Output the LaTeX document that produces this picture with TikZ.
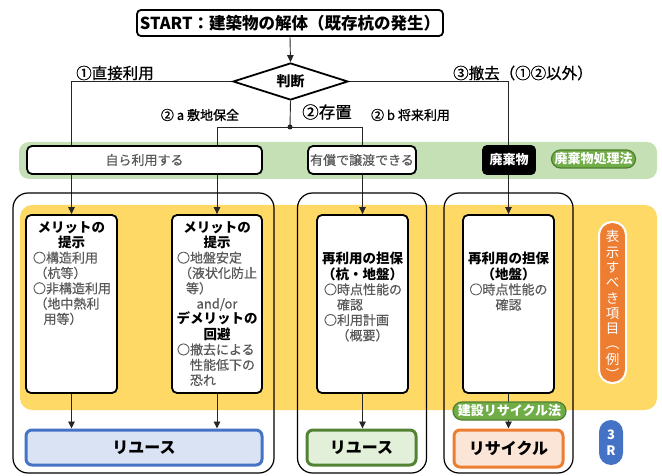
\documentclass[tikz,border=0pt]{standalone}
\usepackage{fontspec}
\setmainfont{Noto Sans CJK JP}
\newfontfamily\medfont{Noto Sans CJK JP}[FakeBold=0.9]
\newfontfamily\bodyfont{Noto Sans CJK JP}[FakeBold=0.4]
\usetikzlibrary{shapes.geometric,arrows.meta}
\pgfdeclarelayer{bg}
\pgfdeclarelayer{conn}
\pgfsetlayers{bg,conn,main}
\definecolor{linec}{HTML}{262626}
\definecolor{tgray}{HTML}{595959}
\definecolor{bandG}{HTML}{C5E0B4}
\definecolor{bandY}{HTML}{FFD966}
\definecolor{pillG}{HTML}{70AD47}
\definecolor{pillGd}{HTML}{507E32}
\definecolor{blueB}{HTML}{4472C4}
\definecolor{blueF}{HTML}{DAE3F3}
\definecolor{greenB}{HTML}{548235}
\definecolor{greenF}{HTML}{E2F0D9}
\definecolor{oraB}{HTML}{ED7D31}
\definecolor{oraF}{HTML}{FBE5D6}
\newlength\tbw
\setlength\tbw{84pt}
\newcommand\Lft[2][0pt]{\makebox[\tbw][l]{\hspace{#1}#2}}
\newcommand\ttl[1]{{\fontsize{13.5}{15.3}\selectfont\normalfont\bfseries\color{black}#1}}
\begin{document}
\begin{tikzpicture}[x=1pt,y=-1pt,
  conn/.style={draw=linec, line width=0.9pt},
  arr/.style={conn, -{Triangle[width=6.5pt,length=7pt]}},
  thickbox/.style={draw=black, line width=1.8pt, fill=white, rounded corners=5pt, inner sep=0pt},
  outerbox/.style={draw=black, line width=1.2pt, rounded corners=15pt, inner sep=0pt, minimum width=129pt, minimum height=280pt},
  innerbox/.style={thickbox, minimum width=91pt, minimum height=178pt},
  txt/.style={inner sep=0pt, align=center, text width=\tbw, font=\bodyfont\fontsize{13}{15.3}\selectfont, text=tgray},
  bandtxt/.style={font=\bodyfont\fontsize{13}{15}\selectfont, text=tgray},
  lbl/.style={inner sep=0pt, text=black},
  gpill/.style={draw=pillGd, line width=1.2pt, fill=pillG, rounded corners=9pt, inner sep=0pt, text=white, font=\bfseries\fontsize{13}{15}\selectfont},
  endbox/.style={line width=3pt, rounded corners=6pt, inner sep=0pt, minimum height=35pt, font=\bfseries\fontsize{16}{18}\selectfont, text=black}
]
\useasboundingbox (0,0) rectangle (662,476);

% bands
\begin{pgfonlayer}{bg}
\fill[bandG, rounded corners=10pt] (19,142) rectangle (657,179);
\fill[bandY, rounded corners=12pt] (20,205) rectangle (657,410);
\end{pgfonlayer}

% top
\node[thickbox, rounded corners=4pt, minimum width=306pt, minimum height=26pt, font=\bfseries\fontsize{16.5}{18}\selectfont] (start) at (290,23) {START：建築物の解体（既存杭の発生）};
\node[diamond, shape aspect=3.1, draw=black, line width=1.8pt, fill=white, minimum width=115pt, minimum height=37pt, inner sep=0pt, font=\bfseries\fontsize{14}{16}\selectfont] (judge) at (290.5,81.5) {判断};
\node[circle, fill=linec, inner sep=0pt, minimum size=5pt] (split) at (290,127) {};

\node[lbl, font=\medfont\fontsize{15.5}{17}\selectfont] (l1) at (115,73) {①直接利用};
\node[lbl, anchor=west, font=\medfont\fontsize{15.5}{17}\selectfont] (l3) at (453,73) {③撤去（①②以外）};
\node[lbl, font=\medfont\fontsize{13}{15}\selectfont] (l2a) at (200,115) {② a 敷地保全};
\node[lbl, font=\medfont\fontsize{16.5}{18}\selectfont] (l2) at (327,112) {②存置};
\node[lbl, font=\medfont\fontsize{13}{15}\selectfont] (l2b) at (410.5,115) {② b 将来利用};

% green band contents
\node[thickbox, minimum width=235pt, minimum height=28pt, bandtxt] (own) at (144.5,160) {自ら利用する};
\node[thickbox, minimum width=108pt, minimum height=28pt, bandtxt] (paid) at (362,160) {有償で譲渡できる};
\node[thickbox, fill=black, draw=black, rounded corners=4pt, minimum width=52pt, minimum height=28pt, text=white, font=\bfseries\fontsize{13}{15}\selectfont] (waste) at (509,160) {廃棄物};
\node[gpill, minimum width=84pt, minimum height=18pt] (wlaw) at (593.5,159) {廃棄物処理法};

% outer boxes
\node[outerbox, minimum width=261pt] (outer1) at (143.5,333) {};
\node[outerbox] (outer2) at (362,333) {};
\node[outerbox] (outer3) at (508.5,333) {};

% inner boxes
\node[innerbox] (m1) at (71.5,304) {};
\node[innerbox, minimum width=90pt] (m2) at (217,304) {};
\node[innerbox] (s1) at (362.5,304) {};
\node[innerbox] (s2) at (508.5,304) {};

\node[txt, anchor=north] (m1t) at (71.5,221) {%
\ttl{メリットの}\\
\ttl{提示}\\
\Lft[3.5pt]{○構造利用}\\
\Lft[5pt]{（杭等）}\\
\Lft[3.5pt]{○非構造利用}\\
\Lft[5pt]{（地中熱利}\\
\Lft[14pt]{用等）}};

\node[txt, anchor=north] (m2t) at (217,221) {%
\ttl{メリットの}\\
\ttl{提示}\\
\Lft[2pt]{○地盤安定}\\
\Lft[4pt]{（液状化防止}\\
\Lft[11pt]{等）}\\
and/or\\
\ttl{デメリットの}\\
\ttl{回避}\\
\Lft[2pt]{○撤去による}\\
\Lft[15pt]{性能低下の}\\
\Lft[15pt]{恐れ}};

\node[txt, anchor=north] (s1t) at (362.5,252) {%
\ttl{再利用の担保}\\
\ttl{（杭・地盤）}\\
\Lft[3.5pt]{○時点性能の}\\
\Lft[16.5pt]{確認}\\
\Lft[3.5pt]{○利用計画}\\
\Lft[16pt]{（概要）}};

\node[txt, anchor=north] (s2t) at (508.5,252) {%
\ttl{再利用の担保}\\
\ttl{（地盤）}\\
○時点性能の\\
確認};

% right side pills
\node[draw=white, line width=2pt, fill=oraB, rounded corners=13pt, minimum width=27pt, minimum height=161pt, inner sep=0pt] (showpill) at (612.5,302.5) {};
\node[inner sep=0pt, align=center, text=white, font=\fontsize{13.5}{15.3}\selectfont] (showtxt) at (612.5,305) {表\\示\\す\\べ\\き\\項\\目\\︵\\例\\︶};
\node[fill=blueB, rounded corners=12pt, minimum width=24pt, minimum height=45pt, inner sep=0pt, align=center, text=white, font=\bfseries\fontsize{13}{16}\selectfont] (rpill) at (611,442.5) {3\\R};

% bottom
\node[gpill, minimum width=113pt, minimum height=18pt] (claw) at (509.5,411) {建設リサイクル法};
\node[endbox, draw=blueB, fill=blueF, minimum width=236pt] (reuse1) at (144,447.5) {リユース};
\node[endbox, draw=greenB, fill=greenF, minimum width=109pt] (reuse2) at (361.5,447.5) {リユース};
\node[endbox, draw=oraB, fill=oraF, minimum width=109pt, minimum height=37pt] (recyc) at (508.5,448.5) {リサイクル};

% connectors
\begin{pgfonlayer}{conn}
\draw[arr] (start.south) -- (judge.north);
\draw[arr] (judge.west) -| (m1.north);
\draw[arr] (judge.east) -| (s2.north);
\draw[conn] (judge.south) -- (split.center);
\draw[arr] (split.center) -| (m2.north);
\draw[arr] (split.center) -| (s1.north);
\draw[arr] (m1.south) -- (m1.south |- reuse1.north);
\draw[arr] (m2.south) -- (m2.south |- reuse1.north);
\draw[arr] (s1.south) -- (s1.south |- reuse2.north);
\draw[arr] (s2.south) -- (s2.south |- recyc.north);
\end{pgfonlayer}
\end{tikzpicture}
\end{document}
